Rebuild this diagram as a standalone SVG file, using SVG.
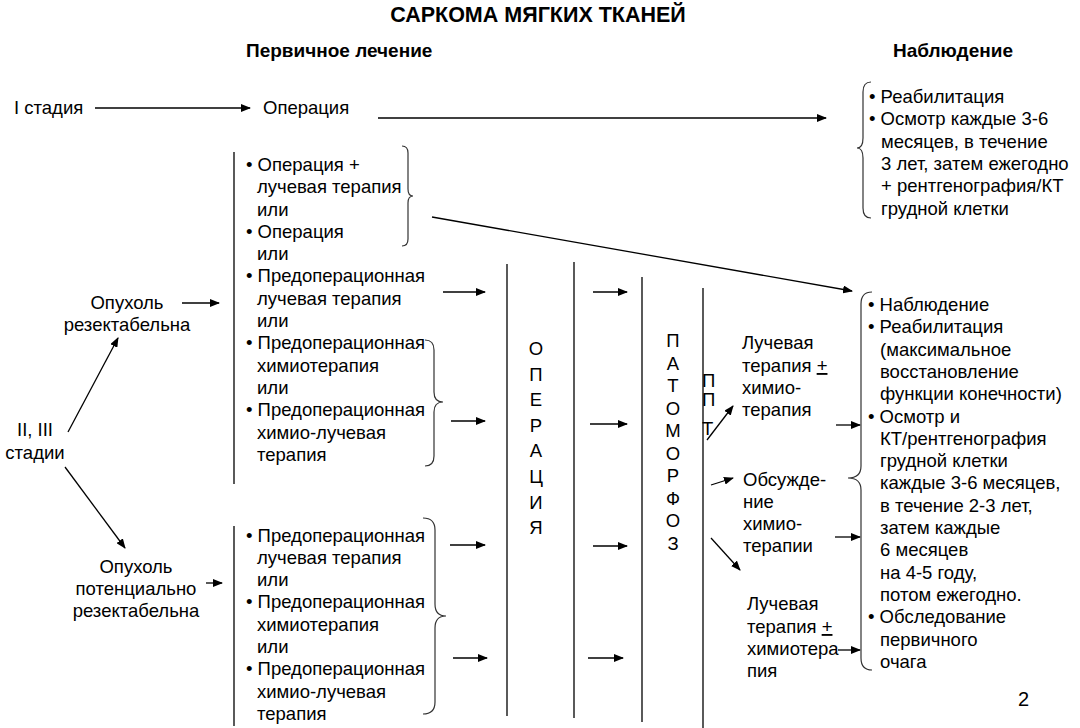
<svg xmlns="http://www.w3.org/2000/svg" width="1080" height="728" viewBox="0 0 1080 728">
<style>
text{font-family:"Liberation Sans",Arial,sans-serif;font-size:18.5px;fill:#000}
.h{font-weight:bold;font-size:19px}
.t{font-weight:bold;font-size:21.5px}
.c{text-anchor:middle}
.ln{stroke:#000;stroke-width:1.3;fill:none}
.br{stroke:#333;stroke-width:1.2;fill:none}
.ar{stroke:#000;stroke-width:1.3;fill:none;marker-end:url(#ah)}
</style>
<defs>
<marker id="ah" markerWidth="10" markerHeight="8" refX="9" refY="4" orient="auto" markerUnits="userSpaceOnUse">
<path d="M0,0 L10,4 L0,8 Z" fill="#000"/>
</marker>
</defs>
<rect width="1080" height="728" fill="#fff"/>
<g id="titles">
<text class="t c" x="538" y="22">САРКОМА МЯГКИХ ТКАНЕЙ</text>
<text class="h" x="246" y="57">Первичное лечение</text>
<text class="h" x="893" y="57">Наблюдение</text>
</g>
<g id="stage1"><text x="14" y="114">I стадия</text></g>
<g id="op1"><text x="263" y="114">Операция</text></g>
<g id="stage23"><text class="c" x="35" y="436">II, III</text><text class="c" x="35" y="459">стадии</text></g>
<g id="res"><text class="c" x="127" y="309">Опухоль</text><text class="c" x="127" y="331">резектабельна</text></g>
<g id="potres"><text class="c" x="136" y="573">Опухоль</text><text class="c" x="136" y="595">потенциально</text><text class="c" x="136" y="617">резектабельна</text></g>
<g id="opts1">
<line class="ln" x1="234" y1="152" x2="234" y2="484"/>
<text x="246" y="171">• Операция +</text>
<text x="257" y="193">лучевая терапия</text>
<text x="257" y="216">или</text>
<text x="246" y="238">• Операция</text>
<text x="257" y="260">или</text>
<text x="246" y="282">• Предоперационная</text>
<text x="257" y="305">лучевая терапия</text>
<text x="257" y="327">или</text>
<text x="246" y="349">• Предоперационная</text>
<text x="257" y="372">химиотерапия</text>
<text x="257" y="394">или</text>
<text x="246" y="416">• Предоперационная</text>
<text x="257" y="439">химио-лучевая</text>
<text x="257" y="461">терапия</text>
<path class="br" d="M402,146 Q408,146 408,153 L408,189 Q408,196 413,196 Q408,196 408,203 L408,239 Q408,246 402,246"/>
<path class="br" d="M425,340 Q434,340 434,350 L434,392 Q434,402 443,402 Q434,402 434,412 L434,456 Q434,466 425,466"/>
</g>
<g id="opts2">
<line class="ln" x1="234" y1="526" x2="234" y2="726"/>
<text x="246" y="542">• Предоперационная</text>
<text x="257" y="564">лучевая терапия</text>
<text x="257" y="586">или</text>
<text x="246" y="608">• Предоперационная</text>
<text x="257" y="631">химиотерапия</text>
<text x="257" y="653">или</text>
<text x="246" y="675">• Предоперационная</text>
<text x="257" y="698">химио-лучевая</text>
<text x="257" y="720">терапия</text>
<path class="br" d="M423,518 Q435,518 435,530 L435,604 Q435,616 446,616 Q435,616 435,628 L435,702 Q435,714 423,714"/>
</g>
<g id="operation">
<line class="ln" x1="507" y1="264" x2="507" y2="716"/>
<line class="ln" x1="574" y1="262" x2="574" y2="718"/>
<text class="c" x="536"><tspan x="536" y="355">О</tspan><tspan x="536" y="381">П</tspan><tspan x="536" y="406">Е</tspan><tspan x="536" y="432">Р</tspan><tspan x="536" y="457">А</tspan><tspan x="536" y="483">Ц</tspan><tspan x="536" y="509">И</tspan><tspan x="536" y="534">Я</tspan></text>
</g>
<g id="pathomorphosis">
<line class="ln" x1="642" y1="277" x2="642" y2="722"/>
<line class="ln" x1="703" y1="288" x2="703" y2="728"/>
<text class="c" x="673"><tspan x="673" y="347">П</tspan><tspan x="673" y="370">А</tspan><tspan x="673" y="392">Т</tspan><tspan x="673" y="415">О</tspan><tspan x="673" y="437">М</tspan><tspan x="673" y="460">О</tspan><tspan x="673" y="482">Р</tspan><tspan x="673" y="505">Ф</tspan><tspan x="673" y="527">О</tspan><tspan x="673" y="550">З</tspan></text>
<text x="702"><tspan x="702" y="387">П</tspan><tspan x="702" y="406">П</tspan><tspan x="702" y="435">Т</tspan></text>
</g>
<g id="rt1"><text x="742" y="349">Лучевая</text><text x="742" y="372">терапия <tspan text-decoration="underline">+</tspan></text><text x="742" y="394">химио-</text><text x="742" y="416">терапия</text></g>
<g id="discuss"><text x="743" y="486">Обсужде-</text><text x="743" y="508">ние</text><text x="743" y="530">химио-</text><text x="743" y="552">терапии</text></g>
<g id="rt2"><text x="747" y="610">Лучевая</text><text x="747" y="633">терапия <tspan text-decoration="underline">+</tspan></text><text x="747" y="655">химиотера</text><text x="747" y="677">пия</text></g>
<g id="follow1">
<path class="br" d="M871,82 Q863,82 863,92 L863,138 Q863,148 857,148 Q863,148 863,158 L863,208 Q863,218 871,218"/>
<text x="869" y="103">• Реабилитация</text>
<text x="869" y="125">• Осмотр каждые 3-6</text>
<text x="881" y="148">месяцев, в течение</text>
<text x="881" y="170">3 лет, затем ежегодно</text>
<text x="881" y="192">+ рентгенография/КТ</text>
<text x="881" y="215">грудной клетки</text>
</g>
<g id="follow2">
<path class="br" d="M872,292 Q861,292 861,304 L861,466 Q861,478 848,478 Q861,478 861,490 L861,658 Q861,670 872,670"/>
<text x="868" y="311">• Наблюдение</text>
<text x="868" y="333">• Реабилитация</text>
<text x="880" y="356">(максимальное</text>
<text x="880" y="378">восстановление</text>
<text x="880" y="400">функции конечности)</text>
<text x="868" y="423">• Осмотр и</text>
<text x="880" y="445">КТ/рентгенография</text>
<text x="880" y="467">грудной клетки</text>
<text x="880" y="489">каждые 3-6 месяцев,</text>
<text x="880" y="512">в течение 2-3 лет,</text>
<text x="880" y="534">затем каждые</text>
<text x="880" y="556">6 месяцев</text>
<text x="880" y="579">на 4-5 году,</text>
<text x="880" y="601">потом ежегодно.</text>
<text x="868" y="623">• Обследование</text>
<text x="880" y="646">первичного</text>
<text x="880" y="668">очага</text>
</g>
<g id="pagenum"><text x="1018" y="706" style="font-size:20px">2</text></g>
<g id="connectors">
<line class="ar" x1="95" y1="108" x2="250" y2="108"/>
<line class="ar" x1="378" y1="118" x2="826" y2="118"/>
<line class="ar" x1="68" y1="432" x2="118" y2="338"/>
<line class="ar" x1="65" y1="467" x2="125" y2="548"/>
<line class="ar" x1="182" y1="303" x2="219" y2="303"/>
<line class="ar" x1="206" y1="583" x2="222" y2="583"/>
<line class="ar" x1="432" y1="217" x2="852" y2="291"/>
<line class="ar" x1="443" y1="292" x2="485" y2="292"/>
<line class="ar" x1="451" y1="421" x2="485" y2="421"/>
<line class="ar" x1="450" y1="545" x2="485" y2="545"/>
<line class="ar" x1="453" y1="658" x2="487" y2="658"/>
<line class="ar" x1="593" y1="292" x2="627" y2="292"/>
<line class="ar" x1="590" y1="424" x2="627" y2="424"/>
<line class="ar" x1="593" y1="546" x2="627" y2="546"/>
<line class="ar" x1="588" y1="658" x2="623" y2="658"/>
<line class="ar" x1="707" y1="440" x2="733" y2="406"/>
<line class="ar" x1="711" y1="485" x2="733" y2="478"/>
<line class="ar" x1="711" y1="538" x2="740" y2="570"/>
<line class="ar" x1="836" y1="425" x2="860" y2="425"/>
<line class="ar" x1="835" y1="537" x2="860" y2="537"/>
<line class="ar" x1="838" y1="650" x2="860" y2="650"/>
</g>
</svg>
